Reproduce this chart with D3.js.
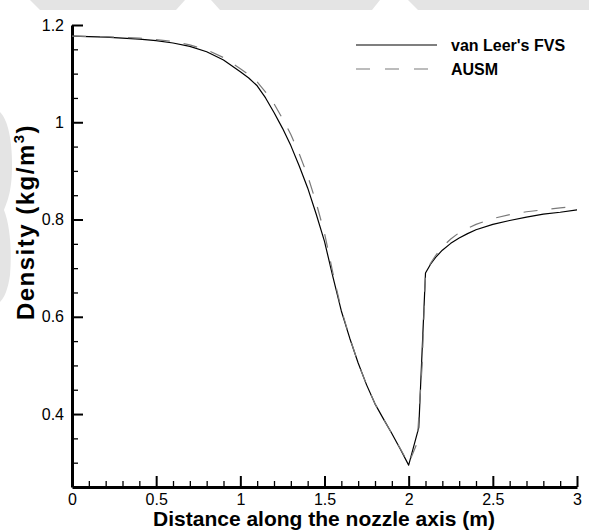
<!DOCTYPE html>
<meta charset="utf-8">
<style>
body { margin: 0; background: #fff; }
svg text { font-family: "Liberation Sans", Arial, sans-serif; fill: #000; }
.axis .domain { stroke: #000; stroke-width: 3px; }
.axis .tick line { stroke: #000; stroke-width: 2px; }
.minor .tick line { stroke: #000; stroke-width: 1.3px; }
.minor .domain { display: none; }
</style>
<svg width="589" height="531"></svg>
<script src="https://d3js.org/d3.v7.min.js"></script>
<script>

// distance along the nozzle axis (m)
var distance = [0, 0.2, 0.4, 0.5, 0.6, 0.7, 0.8, 0.9, 1.0, 1.05, 1.1, 1.15, 1.2, 1.25, 1.3, 1.35, 1.4, 1.45, 1.5, 1.55, 1.6, 1.65, 1.7, 1.75, 1.8, 1.85, 1.9, 1.95, 2.0, 2.06, 2.1, 2.13, 2.16, 2.2, 2.25, 2.3, 2.35, 2.4, 2.5, 2.6, 2.7, 2.8, 2.9, 3.0];
// density (kg/m3), van Leer's FVS
var vanLeer = [1.177, 1.175, 1.171, 1.168, 1.163, 1.156, 1.145, 1.128, 1.104, 1.091, 1.075, 1.05, 1.02, 0.988, 0.952, 0.91, 0.865, 0.812, 0.755, 0.682, 0.612, 0.556, 0.505, 0.46, 0.421, 0.39, 0.36, 0.328, 0.295, 0.372, 0.69, 0.708, 0.722, 0.737, 0.751, 0.762, 0.771, 0.779, 0.79, 0.798, 0.805, 0.811, 0.815, 0.82];

var distanceAusm = [0, 0.2, 0.4, 0.5, 0.6, 0.7, 0.8, 0.9, 1.0, 1.05, 1.1, 1.15, 1.2, 1.25, 1.3, 1.35, 1.4, 1.45, 1.5, 1.55, 1.6, 1.65, 1.7, 1.75, 1.8, 1.85, 1.9, 1.95, 2.0, 2.05, 2.08, 2.1, 2.13, 2.16, 2.2, 2.25, 2.3, 2.35, 2.4, 2.5, 2.6, 2.7, 2.8, 2.9, 3.0];
// density (kg/m3), AUSM
var ausm = [1.177, 1.176, 1.173, 1.17, 1.166, 1.159, 1.149, 1.133, 1.11, 1.098, 1.083, 1.062, 1.038, 1.008, 0.975, 0.935, 0.89, 0.835, 0.772, 0.69, 0.615, 0.557, 0.505, 0.46, 0.421, 0.39, 0.36, 0.329, 0.298, 0.34, 0.5, 0.69, 0.71, 0.726, 0.744, 0.76, 0.773, 0.782, 0.79, 0.802, 0.81, 0.816, 0.82, 0.824, 0.827];

var xTicks = [0, 0.5, 1, 1.5, 2, 2.5, 3];
var xTickLabels = ["0", "0.5", "1", "1.5", "2", "2.5", "3"];
var yTicks = [0.4, 0.6, 0.8, 1, 1.2];
var yTickLabels = ["0.4", "0.6", "0.8", "1", "1.2"];
var xMinor = [0.1, 0.2, 0.3, 0.4, 0.6, 0.7, 0.8, 0.9, 1.1, 1.2, 1.3, 1.4, 1.6, 1.7, 1.8, 1.9, 2.1, 2.2, 2.3, 2.4, 2.6, 2.7, 2.8, 2.9];
var yMinor = [0.3, 0.35, 0.45, 0.5, 0.55, 0.65, 0.7, 0.75, 0.85, 0.9, 0.95, 1.05, 1.1, 1.15];
var seriesNames = ["van Leer's FVS", "AUSM"];

var svg = d3.select("svg");

// faint watermark shapes behind the plot
var wm = svg.append("g").attr("fill", "#e4e4e4");
wm.append("path").attr("d", "M30,0 L185,0 L176,10 L40,10 Z");
wm.append("path").attr("d", "M211,0 L380,0 L372,10 L220,10 Z");
wm.append("path").attr("d", "M408,0 L589,0 L589,10 L418,10 Z");
wm.append("path").attr("d", "M0,112 C8,120 12,140 12,165 C12,190 8,200 4,210 C10,225 12,250 10,275 C8,290 4,298 0,302 Z");

var x = d3.scaleLinear().domain([0, 3]).range([72, 577]);
var y = d3.scaleLinear().domain([0.25, 1.2]).range([487, 25]);

// minor ticks
svg.append("g")
    .attr("class", "minor")
    .attr("transform", "translate(0,487)")
    .call(d3.axisBottom(x).tickValues(xMinor).tickSize(-6).tickFormat(""));

svg.append("g")
    .attr("class", "minor")
    .attr("transform", "translate(72,0)")
    .call(d3.axisLeft(y).tickValues(yMinor).tickSize(-6).tickFormat(""));

// major axes
var xAxis = svg.append("g")
    .attr("class", "axis")
    .attr("transform", "translate(0,487)")
    .call(d3.axisBottom(x).tickValues(xTicks)
      .tickFormat(function(d, i) { return xTickLabels[i]; })
      .tickSizeInner(-11).tickSizeOuter(0).tickPadding(7));
xAxis.selectAll(".tick text").attr("font-size", 16).attr("font-family", null);

var yAxis = svg.append("g")
    .attr("class", "axis")
    .attr("transform", "translate(72,0)")
    .call(d3.axisLeft(y).tickValues(yTicks)
      .tickFormat(function(d, i) { return yTickLabels[i]; })
      .tickSizeInner(-11).tickSizeOuter(0).tickPadding(8));
yAxis.selectAll(".tick text").attr("font-size", 16).attr("font-family", null);

// curves
var line = d3.line()
    .x(function(d) { return x(d[0]); })
    .y(function(d) { return y(d[1]); });

svg.append("path")
    .datum(d3.zip(distance, vanLeer))
    .attr("fill", "none")
    .attr("stroke", "#000")
    .attr("stroke-width", 1.2)
    .attr("stroke-linejoin", "round")
    .attr("d", line);

svg.append("path")
    .datum(d3.zip(distanceAusm, ausm))
    .attr("fill", "none")
    .attr("stroke", "#7a7a7a")
    .attr("stroke-width", 1.2)
    .attr("stroke-dasharray", "14,14")
    .attr("d", line);

// legend
var legend = svg.append("g");
legend.append("line")
    .attr("x1", 356).attr("x2", 437).attr("y1", 45).attr("y2", 45)
    .attr("stroke", "#000").attr("stroke-width", 1.2);
legend.append("line")
    .attr("x1", 356).attr("x2", 437).attr("y1", 69).attr("y2", 69)
    .attr("stroke", "#7a7a7a").attr("stroke-width", 1.2)
    .attr("stroke-dasharray", "14,15");
legend.selectAll("text")
    .data(seriesNames)
    .enter().append("text")
      .attr("x", 451)
      .attr("y", function(d, i) { return 51 + i * 24; })
      .attr("font-size", 16)
      .attr("font-weight", "bold")
      .text(function(d) { return d; });

// axis titles
svg.append("text")
    .attr("x", 324)
    .attr("y", 526)
    .attr("text-anchor", "middle")
    .attr("font-size", 21)
    .attr("font-weight", "bold")
    .text("Distance along the nozzle axis (m)");

var yTitle = svg.append("text")
    .attr("transform", "translate(34,222) rotate(-90)")
    .attr("text-anchor", "middle")
    .attr("font-size", 24)
    .attr("letter-spacing", 1.5)
    .attr("font-weight", "bold");
yTitle.append("tspan").text("Density (kg/m");
yTitle.append("tspan").attr("font-size", 15).attr("dy", -10).text("3");
yTitle.append("tspan").attr("dy", 10).text(")");

</script>
